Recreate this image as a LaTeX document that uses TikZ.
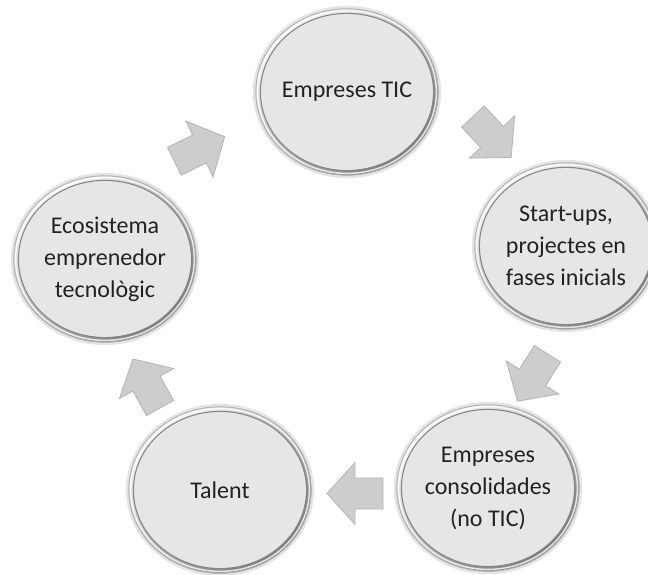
\documentclass[tikz,border=0pt]{standalone}
\usepackage{fontspec}
\setmainfont{Carlito}
\usetikzlibrary{shapes.geometric}
\definecolor{circfill}{HTML}{E6E6E6}
\definecolor{ringout}{HTML}{B0B0B0}
\definecolor{ringin}{HTML}{858585}
\definecolor{ringlight}{HTML}{F6F6F6}
\definecolor{ringdark}{HTML}{7A7A7A}
\definecolor{ringshadow}{HTML}{E4E4E4}
\definecolor{arrfill}{HTML}{CDCDCD}
\definecolor{arrline}{HTML}{B4B4B4}
\definecolor{txt}{HTML}{222222}
\tikzset{
  circ/.style={ellipse, fill=circfill, minimum width=136.5pt, minimum height=124.5pt,
    inner sep=0pt, align=center, text=txt, font=\fontsize{18}{24}\selectfont},
  ringshade/.style={draw=ringshadow, line width=2.4pt},
  ringband/.style={even odd rule, top color=ringlight, bottom color=ringdark, shading angle=40},
  ringouter/.style={draw=ringout, line width=0.7pt},
  ringwhite/.style={draw=white, line width=1.1pt, draw opacity=0.8},
  ringinner/.style={draw=ringin, line width=0.8pt},
  blockarr/.pic={
    \draw[fill=arrfill, draw=arrline, line width=0.6pt, line join=miter]
      (-28,-15.5) -- (0,-15.5) -- (0,-31) -- (28,0) -- (0,31) -- (0,15.5) -- (-28,15.5) -- cycle;
  }
}
\begin{document}
\begin{tikzpicture}[x=0.75pt, y=0.75pt]
\useasboundingbox (0,0) rectangle (648,574);
\fill[white] (0,0) rectangle (648,574);

% circles
\node[circ] (c1) at (347,482) {Empreses TIC};
\node[circ] (c2) at (566,328) {Start-ups,\\projectes en\\fases inicials};
\node[circ] (c3) at (105,315) {Ecosistema\\emprenedor\\tecnològic};
\node[circ] (c4) at (220,84)  {Talent};
\node[circ] (c5) at (488,86)  {Empreses\\consolidades\\(no TIC)};

\foreach \n in {c1,c2,c3,c4,c5}{
  \draw[ringshade] (\n.center) ellipse [x radius=92.5, y radius=84.5];
  \shade[ringband] (\n.center) ellipse [x radius=91.3, y radius=83.3]
                   (\n.center) ellipse [x radius=86.3, y radius=78.3];
  \draw[ringouter] (\n.center) ellipse [x radius=91.2, y radius=83.2];
  \draw[ringwhite] (\n.center) ellipse [x radius=89.4, y radius=81.4];
  \draw[ringinner] (\n.center) ellipse [x radius=86.6, y radius=78.6];
}

% block arrows
\coordinate (a12) at (492,437);
\coordinate (a25) at (532.5,196.5);
\coordinate (a54) at (355,80.5);
\coordinate (a43) at (146.5,190.5);
\coordinate (a31) at (199.5,425);
\pic[rotate=-47]   at (a12) {blockarr};
\pic[rotate=237.7] at (a25) {blockarr};
\pic[rotate=180]   at (a54) {blockarr};
\pic[rotate=118.9] at (a43) {blockarr};
\pic[rotate=26]    at (a31) {blockarr};
\end{tikzpicture}
\end{document}
